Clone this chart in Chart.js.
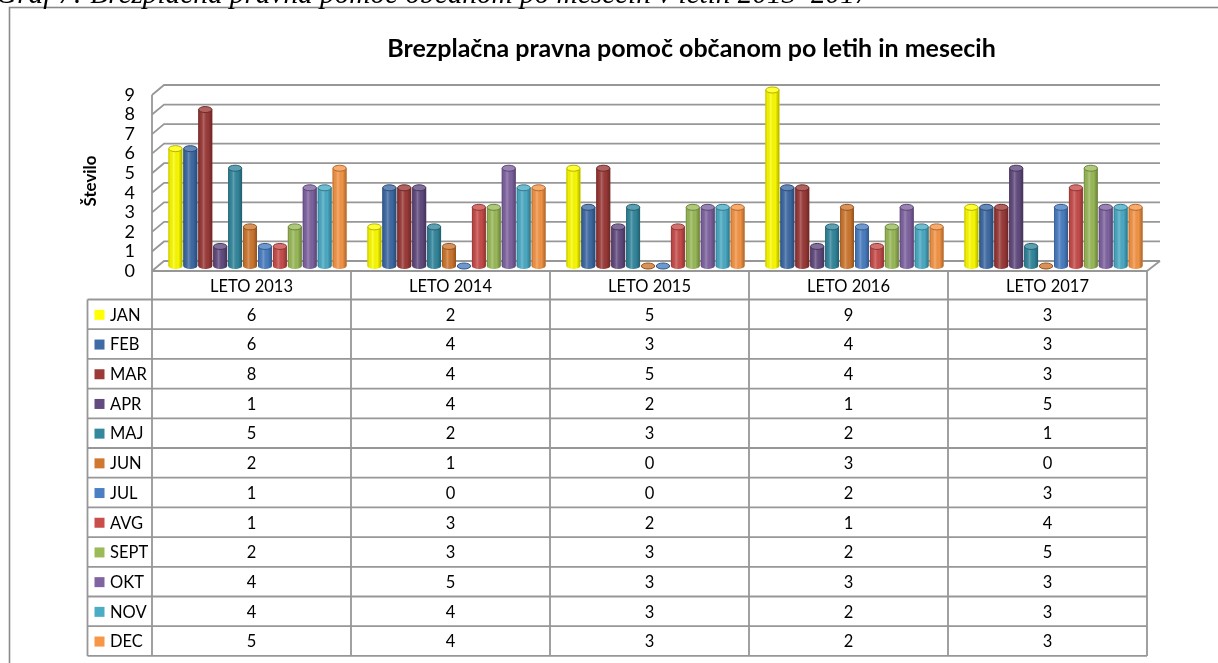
<!DOCTYPE html>
<html>
<head>
<meta charset="utf-8">
<script src="https://cdn.jsdelivr.net/npm/chart.js"></script>
<style>
  html, body { margin: 0; padding: 0; background: #fff; }
</style>
</head>
<body>
<canvas id="myChart" width="1218" height="663"></canvas>
<script>
// data
const years = ['LETO 2013', 'LETO 2014', 'LETO 2015', 'LETO 2016', 'LETO 2017'];
const months = ['JAN', 'FEB', 'MAR', 'APR', 'MAJ', 'JUN', 'JUL', 'AVG', 'SEPT', 'OKT', 'NOV', 'DEC'];
const jan  = [6, 2, 5, 9, 3];
const feb  = [6, 4, 3, 4, 3];
const mar  = [8, 4, 5, 4, 3];
const apr  = [1, 4, 2, 1, 5];
const maj  = [5, 2, 3, 2, 1];
const jun  = [2, 1, 0, 3, 0];
const jul  = [1, 0, 0, 2, 3];
const avg  = [1, 3, 2, 1, 4];
const sept = [2, 3, 3, 2, 5];
const okt  = [4, 5, 3, 3, 3];
const nov  = [4, 4, 3, 2, 3];
const dec  = [5, 4, 3, 2, 3];
const yTicks = [0, 1, 2, 3, 4, 5, 6, 7, 8, 9];

const series = [jan, feb, mar, apr, maj, jun, jul, avg, sept, okt, nov, dec];
const colors = ['#FFFF00', '#3E6BA6', '#9C3A38', '#634B80', '#33889E', '#D0782F',
                '#4A7FC3', '#C94D4B', '#9BBB59', '#8064A2', '#4BACC6', '#F79646'];

const chartTitle = 'Brezplačna pravna pomoč občanom po letih in mesecih';
const yTitle = 'Število';
const caption = 'Graf 7: Brezplačna pravna pomoč občanom po mesecih v letih 2013–2017';

// depth of the 3d look
const DX = 12, DY = -10;
const LINE = '#979797';

function hexRgb(h) {
    h = h.replace('#', '');
    return [parseInt(h.substr(0, 2), 16), parseInt(h.substr(2, 2), 16), parseInt(h.substr(4, 2), 16)];
}
function mix(h, t, k) {
    const c = hexRgb(h);
    return 'rgb(' + c.map(v => Math.round(v + (t - v) * k)).join(',') + ')';
}

function fitFont(ctx, text, style, family, width) {
    ctx.font = style + ' 20px ' + family;
    const w = ctx.measureText(text).width;
    return 20 * width / w;
}

const depthPlugin = {
    id: 'depth',
    beforeDatasetsDraw(chart) {
        const ctx = chart.ctx;
        const ys = chart.scales.y;
        const area = chart.chartArea;
        ctx.save();
        ctx.strokeStyle = LINE;
        ctx.lineWidth = 1.8;
        // back wall grid + left wall
        yTicks.forEach(v => {
            const yf = ys.getPixelForValue(v);
            ctx.beginPath();
            ctx.moveTo(area.left, yf);
            ctx.lineTo(area.left + DX, yf + DY);
            ctx.lineTo(area.right + DX + 1, yf + DY);
            ctx.stroke();
        });
        ctx.beginPath();
        ctx.moveTo(area.left, ys.getPixelForValue(9));
        ctx.lineTo(area.left, area.bottom);
        ctx.moveTo(area.right, area.bottom);
        ctx.lineTo(area.right + DX + 1, area.bottom + DY);
        ctx.stroke();
        ctx.restore();

        ctx.save();
        ctx.translate(DX / 2, DY / 2);
    },
    afterDatasetsDraw(chart) {
        const ctx = chart.ctx;
        chart.data.datasets.forEach((ds, i) => {
            const meta = chart.getDatasetMeta(i);
            meta.data.forEach(bar => {
                const p = bar.getProps(['x', 'y', 'base', 'width'], true);
                const rx = p.width / 2, ry = 3;
                const l = p.x - rx, r = p.x + rx;
                // body with rounded bottom
                ctx.beginPath();
                ctx.moveTo(l, p.y);
                ctx.lineTo(l, p.base);
                ctx.ellipse(p.x, p.base, rx, ry, 0, Math.PI, 0, true);
                ctx.lineTo(r, p.y);
                ctx.closePath();
                ctx.fillStyle = ds.backgroundColor;
                ctx.fill();
                const g = ctx.createLinearGradient(l, 0, r, 0);
                g.addColorStop(0, 'rgba(0,0,0,0.28)');
                g.addColorStop(0.12, 'rgba(0,0,0,0.06)');
                g.addColorStop(0.38, 'rgba(255,255,255,0.22)');
                g.addColorStop(0.7, 'rgba(0,0,0,0.02)');
                g.addColorStop(1, 'rgba(0,0,0,0.32)');
                ctx.fillStyle = g;
                ctx.fill();
                // top cap
                ctx.beginPath();
                ctx.ellipse(p.x, p.y, rx - 0.3, ry, 0, 0, Math.PI * 2);
                ctx.fillStyle = mix(ds.backgroundColor, 255, 0.2);
                ctx.fill();
                ctx.lineWidth = 1;
                ctx.strokeStyle = mix(ds.backgroundColor, 0, 0.3);
                ctx.stroke();
            });
        });
        ctx.restore();
    },
    afterDraw(chart) {
        const ctx = chart.ctx;
        const xs = chart.scales.x;
        const area = chart.chartArea;
        const colW = (area.right - area.left) / years.length;
        const headTop = area.bottom, headBot = 299.5, rowH = 29.7;
        const tableLeft = 87.5;
        const tableBot = headBot + rowH * months.length;

        ctx.save();
        // frame
        ctx.strokeStyle = '#8a8a8a';
        ctx.lineWidth = 1.6;
        ctx.strokeRect(9.5, 7.5, 1400, 1000);

        // caption (cut off at the top)
        let fs = fitFont(ctx, caption, 'italic', '"Liberation Serif"', 874);
        ctx.font = 'italic ' + fs + 'px "Liberation Serif"';
        ctx.fillStyle = '#000';
        ctx.textAlign = 'left';
        ctx.textBaseline = 'alphabetic';
        ctx.fillText(caption, -4, 3);

        // title
        fs = fitFont(ctx, chartTitle, 'bold', 'Lato', 609);
        ctx.font = 'bold ' + fs + 'px Lato';
        ctx.textAlign = 'center';
        ctx.fillText(chartTitle, 691.5, 57);

        // y axis title
        ctx.save();
        ctx.translate(91, 181);
        ctx.rotate(-Math.PI / 2);
        fs = fitFont(ctx, yTitle, 'bold', 'Lato', 51);
        ctx.font = 'bold ' + fs + 'px Lato';
        ctx.textBaseline = 'middle';
        ctx.fillText(yTitle, 0, 0);
        ctx.restore();

        // data table
        ctx.strokeStyle = LINE;
        ctx.lineWidth = 1.8;
        ctx.beginPath();
        // header row
        ctx.moveTo(area.left, headTop);
        ctx.lineTo(area.right, headTop);
        for (let r = 0; r <= months.length; r++) {
            const y = headBot + r * rowH;
            ctx.moveTo(tableLeft, y);
            ctx.lineTo(area.right, y);
        }
        ctx.moveTo(tableLeft, headBot);
        ctx.lineTo(tableLeft, tableBot);
        for (let c = 0; c <= years.length; c++) {
            const x = area.left + c * colW;
            ctx.moveTo(x, headTop);
            ctx.lineTo(x, tableBot);
        }
        ctx.stroke();

        ctx.font = '16.5px Lato';
        ctx.textBaseline = 'middle';
        ctx.textAlign = 'center';
        ctx.fillStyle = '#000';
        years.forEach((yr, c) => {
            ctx.fillText(yr, xs.getPixelForValue(c), (headTop + headBot) / 2 + 1);
        });
        months.forEach((m, r) => {
            const cy = headBot + (r + 0.5) * rowH + 1;
            ctx.fillStyle = colors[r];
            ctx.fillRect(94.5, cy - 5.5, 10, 10);
            ctx.fillStyle = '#000';
            ctx.textAlign = 'left';
            ctx.fillText(m, 110, cy);
            ctx.textAlign = 'center';
            series[r].forEach((v, c) => {
                ctx.fillText(String(v), xs.getPixelForValue(c), cy);
            });
        });
        ctx.restore();
    }
};

const data = {
    labels: years,
    datasets: months.map((m, i) => ({
        label: m,
        data: series[i],
        backgroundColor: colors[i],
        borderWidth: 0,
        categoryPercentage: 0.9,
        barPercentage: 0.93,
        clip: false
    }))
};

const config = {
    type: 'bar',
    data: data,
    options: {
        responsive: false,
        animation: false,
        layout: { padding: { left: 0, top: 95, right: 71, bottom: 392 } },
        plugins: {
            legend: { display: false },
            title: { display: false },
            tooltip: { enabled: false }
        },
        scales: {
            x: { display: false },
            y: {
                min: 0,
                max: 9,
                afterFit(s) { s.width = 152; },
                afterBuildTicks(s) { s.ticks = yTicks.map(v => ({ value: v })); },
                ticks: { autoSkip: false, padding: 17, color: '#000', font: { family: 'Lato', size: 18 } },
                grid: { display: false, drawTicks: false },
                border: { display: false }
            }
        }
    },
    plugins: [depthPlugin]
};

const myChart = new Chart(document.getElementById('myChart'), config);
</script>
</body>
</html>
